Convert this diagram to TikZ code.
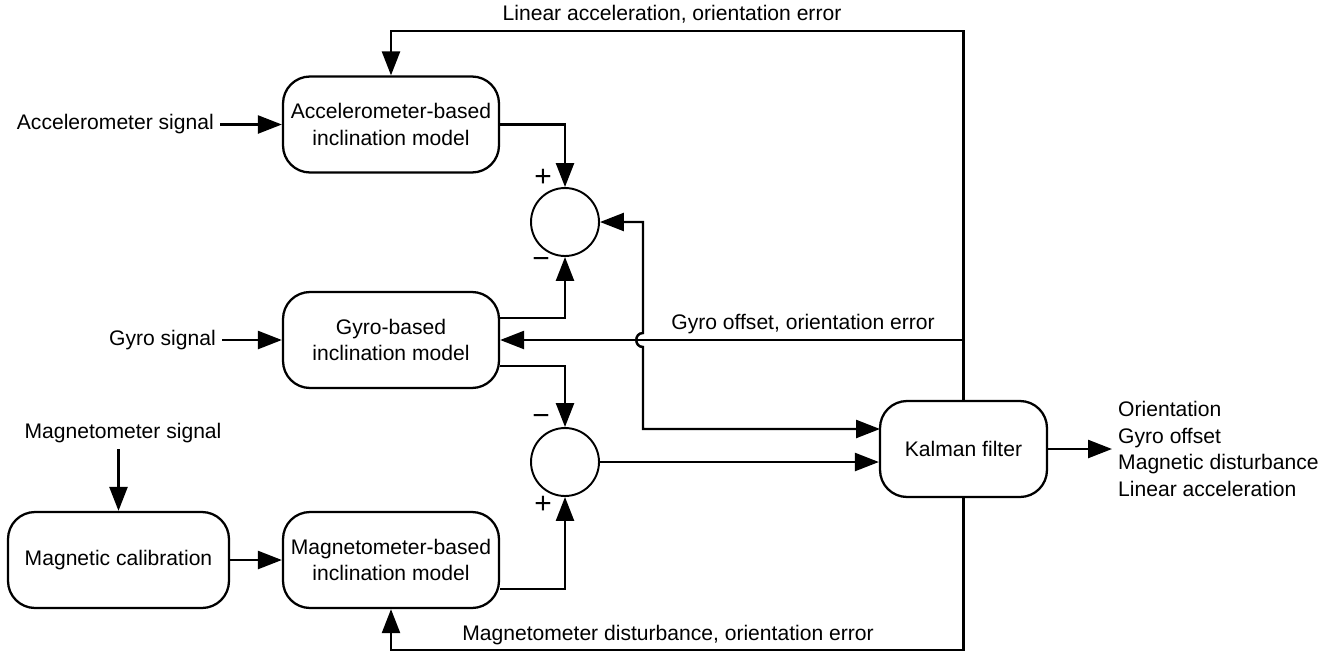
\documentclass[tikz,border=0pt]{standalone}
\usepackage{fontspec}
\setmainfont{Liberation Sans}
\usetikzlibrary{arrows.meta}
\begin{document}
\begin{tikzpicture}[x=0.02cm,y=-0.02cm,>={Triangle[length=0.48cm,width=0.36cm]},
  every node/.style={font=\fontsize{12}{15.2}\selectfont},
  block/.style={draw,line width=1.3pt,rounded corners=0.54cm,minimum width=4.32cm,minimum height=1.92cm,align=center,inner sep=0pt},
  sumnode/.style={draw,circle,line width=1.1pt,minimum size=1.36cm,inner sep=0pt},
  signlbl/.style={font=\fontsize{17}{20}\selectfont,inner sep=0pt},
  conn/.style={line width=1.4pt}]

\useasboundingbox (0,0) rectangle (1335,653);

\node[block] (acc) at (391,124.5) {Accelerometer-based\\inclination model};
\node[block] (gyro) at (391,340) {Gyro-based\\inclination model};
\node[block] (mag) at (391,560) {Magnetometer-based\\inclination model};
\node[block,minimum width=4.42cm] (calib) at (118.5,560) {Magnetic calibration};
\node[block,minimum width=3.34cm] (kal) at (963.5,449) {Kalman filter};
\node[sumnode] (sum1) at (565,222) {};
\node[sumnode] (sum2) at (565,462) {};

\node[anchor=east] (accsig) at (220,124.5) {Accelerometer signal};
\node[anchor=east] (gyrosig) at (222,340) {Gyro signal};
\node (magsig) at (123,433) {Magnetometer signal};
\node[anchor=west,align=left] (out) at (1112,449) {Orientation\\Gyro offset\\Magnetic disturbance\\Linear acceleration};

\node[signlbl] (p1) at (543,178) {+};
\node[signlbl] (m1) at (541,263) {−};
\node[signlbl] (m2) at (541,420) {−};
\node[signlbl] (p2) at (543,505) {+};

\node (lbltop) at (672,14) {Linear acceleration, orientation error};
\node (lblgyro) at (803,324) {Gyro offset, orientation error};
\node (lblbot) at (668,635) {Magnetometer disturbance, orientation error};

\coordinate (topl) at (964,31);
\coordinate (botl) at (964,650);
\coordinate (hop) at (643,340);
\coordinate (kin) at (880,429);

\draw[conn,->] (accsig) -- (acc);
\draw[conn,->] (gyrosig) -- (gyro);
\draw[conn,->] (magsig.south -| calib.north) -- (calib.north);
\draw[conn,->] (calib) -- (mag);
\draw[conn,->] (acc.east) -| (sum1.north);
\draw[conn,->] ([yshift=0.44cm]gyro.east) -| (sum1.south);
\draw[conn,->] ([yshift=-0.52cm]gyro.east) -| (sum2.north);
\draw[conn,->] ([yshift=-0.58cm]mag.east) -| (sum2.south);
\draw[conn,->] (sum2) -- (sum2 -| kal.west);
\draw[conn,->] (kal) -- (out);

\draw[conn,->] (kal.north) -- (kal.north |- topl) -| (acc.north);
\draw[conn,->] (kal.south) -- (kal.south |- botl) -| (mag.south);
\draw[conn,->] (kal.north |- gyro.east) -- (gyro.east);
\draw[conn,<->] (sum1.east) -| ([yshift=0.14cm]hop) .. controls ([xshift=-0.18cm,yshift=0.14cm]hop) and ([xshift=-0.18cm,yshift=-0.14cm]hop) .. ([yshift=-0.14cm]hop) |- (kin);
\end{tikzpicture}
\end{document}
